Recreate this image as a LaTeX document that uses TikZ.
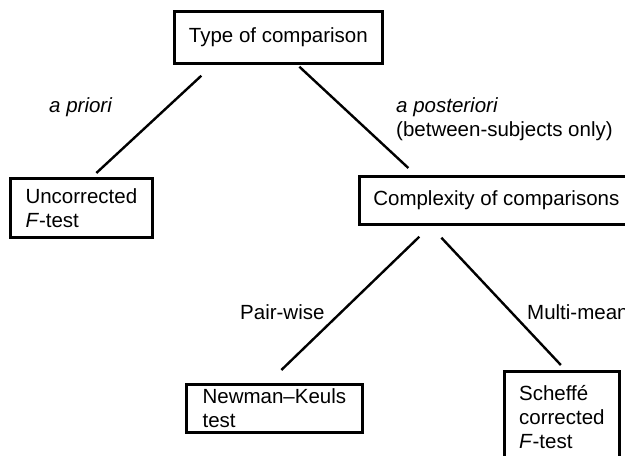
\documentclass[tikz,border=0pt]{standalone}
\usepackage{fontspec}
\setmainfont{Liberation Sans}
\begin{document}
\begin{tikzpicture}[x=1pt,y=-1pt,
  every node/.style={font=\fontsize{20.5}{24}\selectfont, inner sep=0pt},
  box/.style={draw, line width=2.7pt, align=left, anchor=north west},
  link/.style={line width=2.4pt},
  lbl/.style={anchor=west}]
  \clip (0,0) rectangle (625,456);
  % decision boxes
  \node[box, minimum width=208, minimum height=52] (type) at (173,10) {Type of comparison};
  \node[box, minimum width=142, minimum height=59] (uncorr) at (9,177) {Uncorrected\\\textit{F}-test};
  \node[box, minimum width=274, minimum height=48] (cplx) at (358,175) {Complexity of comparisons};
  \node[box, minimum width=176, minimum height=48] (nk) at (185,383) {Newman--Keuls\\test};
  \node[box, minimum width=115, minimum height=92] (sch) at (503,370) {Scheff\'e\\corrected\\\textit{F}-test};
  % branches
  \draw[link] ([shift={(-77,11)}]type.south) -- ([shift={(15,-4)}]uncorr.north);
  \draw[link] ([shift={(21,2)}]type.south) -- ([shift={(-88,-7)}]cplx.north);
  \draw[link] ([shift={(-77,11)}]cplx.south) -- ([shift={(7,-13)}]nk.north);
  \draw[link] ([shift={(-55,12)}]cplx.south) -- ([shift={(-1,-5)}]sch.north);
  % branch labels
  \node[lbl] (lpri) at (49,107) {\textit{a priori}};
  \node[lbl, align=left] (lpost) at (396,119) {\textit{a posteriori}\\(between-subjects only)};
  \node[lbl] (lpair) at (240,312) {Pair-wise};
  \node[lbl] (lmulti) at (527,312) {Multi-mean};
\end{tikzpicture}
\end{document}
